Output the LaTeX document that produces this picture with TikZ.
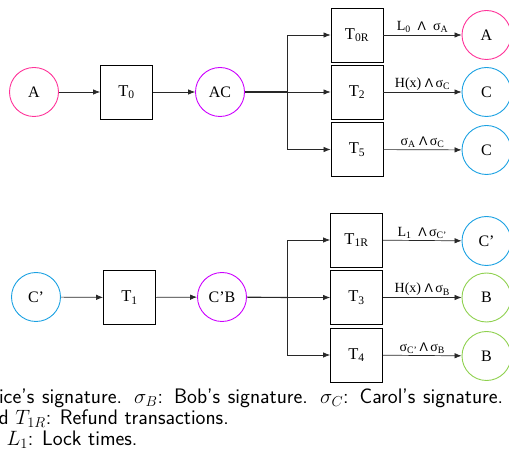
\documentclass[tikz,border=0pt]{standalone}
\usepackage{fontspec}
\setmainfont{Liberation Serif}
\newfontfamily\opfont{Liberation Sans}
\usetikzlibrary{arrows.meta}

\definecolor{alicepink}{RGB}{255,51,153}
\definecolor{jointmag}{RGB}{204,0,255}
\definecolor{carolcyan}{RGB}{27,161,226}
\definecolor{bobgreen}{RGB}{143,209,79}
\definecolor{wire}{RGB}{40,40,40}

\newcommand{\sub}[1]{\textsubscript{#1}}
\newcommand{\wedgeop}{{\opfont\fontsize{12.5}{12.5}\selectfont Λ}}

\tikzset{
  party/.style={circle, draw=#1, line width=0.9pt, minimum size=49pt, inner sep=0pt,
    font=\fontsize{16}{16}\selectfont},
  txbox/.style={rectangle, draw=black, line width=0.9pt, minimum width=52pt, minimum height=54pt,
    inner sep=0pt, font=\fontsize{16.5}{16.5}\selectfont},
  flow/.style={draw=wire, line width=0.7pt, -{Latex[length=7pt,width=5.5pt]}},
  trunk/.style={draw=wire, line width=1.1pt},
  cond/.style={font=\fontsize{14}{14}\selectfont, inner sep=0pt, anchor=base, yshift=4.5pt},
  legend/.style={font=\sffamily\fontsize{21}{21}\selectfont, align=left, inner sep=0pt}
}

\begin{document}
\begin{tikzpicture}[x=1pt, y=-1pt]
  \useasboundingbox (0,0) rectangle (509,454);

  % ---- first protocol: A funds the joint output AC ----
  \node[party=alicepink] (a) at (34,92) {A};
  \node[txbox] (t0) at (126.5,92) {T\sub{0}};
  \node[party=jointmag] (ac) at (220,92) {AC};

  \node[txbox] (t0r) at (357,35) {T\sub{0R}};
  \node[txbox] (t2) at (357,92) {T\sub{2}};
  \node[txbox] (t5) at (357,149.5) {T\sub{5}};

  \node[party=alicepink] (ra) at (486.5,35) {A};
  \node[party=carolcyan] (rc1) at (486.5,92) {C};
  \node[party=carolcyan] (rc2) at (486.5,150) {C};

  \coordinate (s1) at (287,92);

  \draw[flow] (a) -- (t0);
  \draw[flow] (t0) -- (ac);
  \draw[trunk] (ac) -- (s1);
  \draw[flow] (s1) |- (t0r);
  \draw[flow] (s1) -- (t2);
  \draw[flow] (s1) |- (t5);

  \draw[flow] (t0r) -- node[cond] {L\sub{0}\ \ \wedgeop\ \ σ\sub{A}} (ra);
  \draw[flow] (t2) -- node[cond] {H(x) \wedgeop\,σ\sub{C}} (rc1);
  \draw[flow] (t5) -- node[cond] {σ\sub{A}\ \wedgeop\,σ\sub{C}} (rc2);

  % ---- second protocol: C' funds the joint output C'B ----
  \node[party=carolcyan] (c) at (36,297) {C’};
  \node[txbox] (t1) at (129.5,297.5) {T\sub{1}};
  \node[party=jointmag] (cb) at (222,297) {C’B};

  \node[txbox] (t1r) at (356.5,240) {T\sub{1R}};
  \node[txbox] (t3) at (356.5,297.5) {T\sub{3}};
  \node[txbox] (t4) at (356.5,355) {T\sub{4}};

  \node[party=carolcyan] (rc3) at (486.5,241) {C’};
  \node[party=bobgreen] (rb1) at (486.5,297.5) {B};
  \node[party=bobgreen] (rb2) at (486.5,356) {B};

  \coordinate (s2) at (287,297.5);

  \draw[flow] (c) -- (t1);
  \draw[flow] (t1) -- (cb);
  \draw[trunk] (cb) -- (s2);
  \draw[flow] (s2) |- (t1r);
  \draw[flow] (s2) -- (t3);
  \draw[flow] (s2) |- (t4);

  \draw[flow] (t1r) -- node[cond] {L\sub{1}\ \ \wedgeop\,σ\sub{C’}} (rc3);
  \draw[flow] (t3) -- node[cond] {H(x) \wedgeop\,σ\sub{B}} (rb1);
  \draw[flow] (t4) -- node[cond] {σ\sub{C’}\,\wedgeop\,σ\sub{B}} (rb2);

  % ---- key (first line set justified, as in a caption) ----
  \node[legend, anchor=north west] (key) at (-58,389) {%
    \makebox[561pt][s]{$\sigma_A$: Alice's signature. $\sigma_B$: Bob's signature. $\sigma_C$: Carol's signature.}\\
    $T_{0R}$ and $T_{1R}$: Refund transactions.\\
    $L_0$ and $L_1$: Lock times.};
\end{tikzpicture}
\end{document}
